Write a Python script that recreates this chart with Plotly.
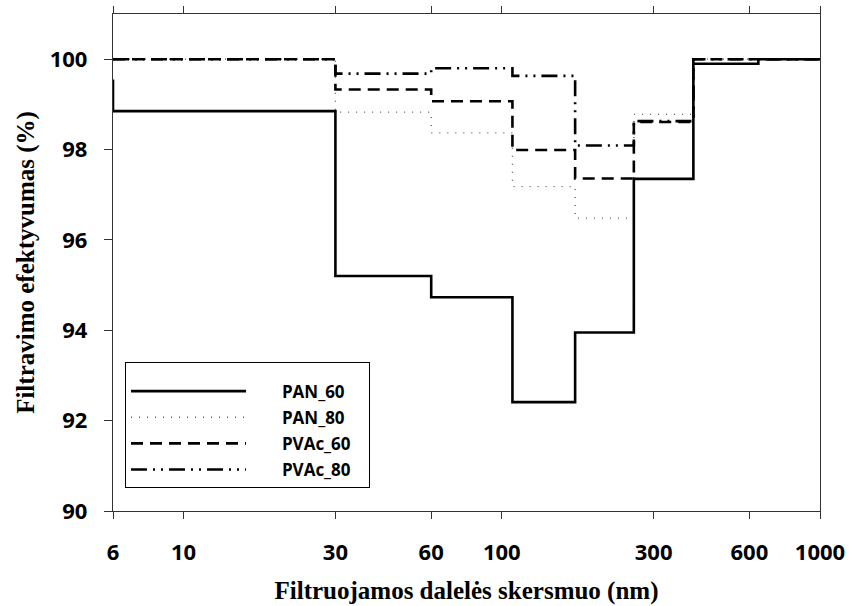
import plotly.graph_objects as go

# Bin edges (nm) for the step curves
edges = [6, 30, 60, 108, 170, 260, 400, 640, 1000]

# Filtration efficiency (%) per size bin
pan_60 = [98.85, 95.20, 94.73, 92.41, 93.95, 97.35, 99.90, 100.0]
pan_60_start = 99.55
pan_80 = [100.0, 98.83, 98.37, 97.18, 96.48, 98.78, 100.0, 100.0]
pvac_60 = [100.0, 99.33, 99.07, 97.99, 97.36, 98.61, 100.0, 100.0]
pvac_80 = [100.0, 99.68, 99.80, 99.63, 98.09, 98.63, 100.0, 100.0]

series_names = ["PAN_60", "PAN_80", "PVAc_60", "PVAc_80"]
x_ticks = [6, 10, 30, 60, 100, 300, 600, 1000]
y_ticks = [90, 92, 94, 96, 98, 100]

fig = go.Figure()

def steps(vals):
    return list(edges), list(vals) + [vals[-1]]

styles = [
    dict(color="black", width=2.6, dash="solid"),
    dict(color="#555555", width=1.3, dash="1px,7px"),
    dict(color="black", width=2.6, dash="12px,7px"),
    dict(color="black", width=2.6, dash="16px,6px,2px,6px,2px,6px"),
]

datasets = [pan_60, pan_80, pvac_60, pvac_80]
order = [1, 2, 3, 0]  # draw solid line last (on top)
traces = {}
for i, vals in enumerate(datasets):
    xs, ys = steps(vals)
    if i == 0:
        xs = [edges[0]] + xs
        ys = [pan_60_start] + ys
    traces[i] = go.Scatter(
        x=xs, y=ys, mode="lines", line_shape="hv",
        line=styles[i],
        name="\u00a0" * 7 + series_names[i] + "\u00a0" * 3,
        legendgroup="g%d" % i, legendrank=i + 1,
    )
for i in order:
    fig.add_trace(traces[i])

fig.update_layout(
    width=849, height=606,
    margin=dict(l=113, r=29, t=14, b=95),
    paper_bgcolor="white", plot_bgcolor="white",
    showlegend=True,
    legend=dict(
        x=0.017, y=0.2994, xanchor="left", yanchor="top",
        bgcolor="white", bordercolor="black", borderwidth=1,
        font=dict(family="Open Sans", size=17, color="black", weight="bold"),
        itemwidth=115, tracegroupgap=1,
        title=dict(text="\u00a0", font=dict(size=8)),
    ),
)

axis_font = dict(family="Open Sans", size=22, color="black", weight="bold")
title_font = dict(family="Liberation Serif", size=25, color="black", weight="bold")

fig.update_xaxes(
    type="log", range=[0.7781512503836436, 3.0],
    tickvals=x_ticks, ticktext=[str(v) for v in x_ticks],
    ticks="outside", ticklen=7, tickwidth=1.3, tickcolor="#333",
    showline=True, linecolor="#333", linewidth=1.3, mirror="ticks",
    showgrid=False, zeroline=False, automargin=False,
    tickfont=axis_font, ticklabelstandoff=14,
    title=dict(text="Filtruojamos dalelės skersmuo (nm)", font=title_font, standoff=16),
)
fig.update_yaxes(
    range=[90, 101], tickvals=y_ticks,
    ticks="outside", ticklen=8, tickwidth=1.3, tickcolor="#333",
    showline=True, linecolor="#333", linewidth=1.3, mirror=True,
    showgrid=False, zeroline=False, automargin=False,
    tickfont=axis_font, ticklabelstandoff=12,
    title=dict(text="Filtravimo efektyvumas (%)", font=title_font, standoff=7),
)

fig.write_html(
    "out.html",
    config={"displayModeBar": False},
    post_script="document.body.style.margin='0';",
)
